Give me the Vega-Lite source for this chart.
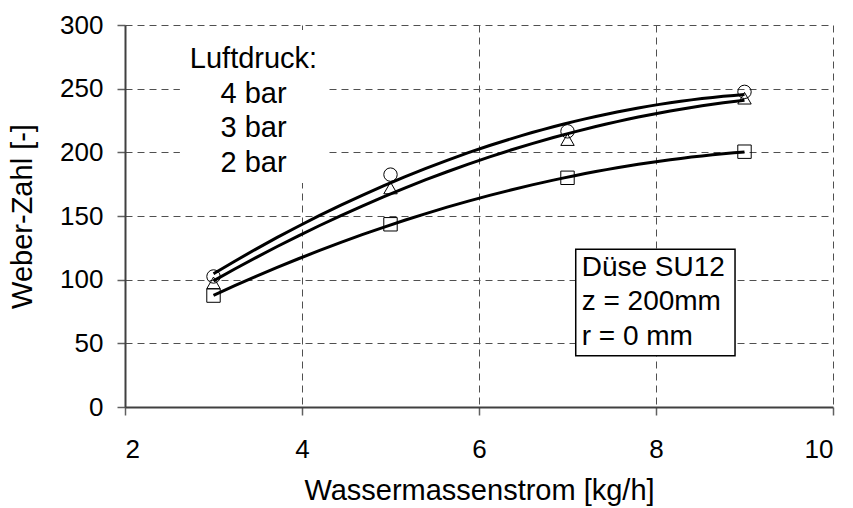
{
  "$schema": "https://vega.github.io/schema/vega-lite/v6.json",
  "width": 708,
  "height": 382,
  "autosize": {"type": "none"},
  "padding": {"left": 125, "top": 25, "right": 20, "bottom": 101},
  "background": "white",
  "config": {
    "view": {"stroke": null},
    "font": "Liberation Sans",
    "axis": {
      "labelFont": "Liberation Sans",
      "titleFont": "Liberation Sans",
      "labelFontSize": 26,
      "titleFontSize": 29,
      "labelColor": "black",
      "titleColor": "black",
      "titleFontWeight": "normal",
      "domainColor": "#404040",
      "domainWidth": 2,
      "tickColor": "#606060",
      "tickWidth": 1.5,
      "tickSize": 8,
      "gridColor": "#505050",
      "gridWidth": 1,
      "gridDash": [7, 5]
    }
  },
  "datasets": {
    "pts": [
      {"luftdruck": "4 bar", "massenstrom": 3, "weber": 102.5},
      {"luftdruck": "4 bar", "massenstrom": 5, "weber": 182.5},
      {"luftdruck": "4 bar", "massenstrom": 7, "weber": 216.5},
      {"luftdruck": "4 bar", "massenstrom": 9, "weber": 247.5},
      {"luftdruck": "3 bar", "massenstrom": 3, "weber": 97.5},
      {"luftdruck": "3 bar", "massenstrom": 5, "weber": 172},
      {"luftdruck": "3 bar", "massenstrom": 7, "weber": 210},
      {"luftdruck": "3 bar", "massenstrom": 9, "weber": 242.5},
      {"luftdruck": "2 bar", "massenstrom": 3, "weber": 87.5},
      {"luftdruck": "2 bar", "massenstrom": 5, "weber": 143.5},
      {"luftdruck": "2 bar", "massenstrom": 7, "weber": 180},
      {"luftdruck": "2 bar", "massenstrom": 9, "weber": 200.5}
    ]
  },
  "layer": [
    {
      "data": {"values": [{}]},
      "mark": {"type": "rect", "fill": "white", "stroke": null},
      "encoding": {
        "x": {"datum": 2.62, "type": "quantitative", "scale": {"domain": [2, 10]}},
        "x2": {"datum": 4.26},
        "y": {"datum": 296, "type": "quantitative", "scale": {"domain": [0, 300]}},
        "y2": {"datum": 176}
      }
    },
    {
      "data": {"name": "pts"},
      "transform": [
        {"regression": "weber", "on": "massenstrom", "groupby": ["luftdruck"], "method": "poly", "order": 2, "extent": [3, 9]}
      ],
      "mark": {"type": "line", "color": "black", "strokeWidth": 3, "clip": true},
      "encoding": {
        "x": {"field": "massenstrom", "type": "quantitative"},
        "y": {"field": "weber", "type": "quantitative"},
        "detail": {"field": "luftdruck"}
      }
    },
    {
      "data": {"name": "pts"},
      "mark": {"type": "point", "filled": false, "stroke": "black", "strokeWidth": 1, "opacity": 1},
      "encoding": {
        "x": {
          "field": "massenstrom",
          "type": "quantitative",
          "scale": {"domain": [2, 10], "nice": false},
          "axis": {
            "title": "Wassermassenstrom [kg/h]",
            "values": [2, 4, 6, 8, 10],
            "format": "d",
            "labelPadding": 21,
            "titlePadding": 14,
            "grid": true
          }
        },
        "y": {
          "field": "weber",
          "type": "quantitative",
          "scale": {"domain": [0, 300], "nice": false},
          "axis": {
            "title": "Weber-Zahl [-]",
            "values": [0, 50, 100, 150, 200, 250, 300],
            "labelPadding": 14,
            "titlePadding": 22,
            "grid": true
          }
        },
        "shape": {
          "field": "luftdruck",
          "type": "nominal",
          "scale": {"domain": ["4 bar", "3 bar", "2 bar"], "range": ["circle", "triangle-up", "square"]},
          "legend": null
        },
        "size": {"value": 180}
      }
    },
    {
      "data": {"values": [{}]},
      "mark": {"type": "rect", "fill": "white", "stroke": "black", "strokeWidth": 1.5},
      "encoding": {
        "x": {"datum": 7.093, "type": "quantitative"},
        "x2": {"datum": 8.893},
        "y": {"datum": 123.8, "type": "quantitative"},
        "y2": {"datum": 40.3}
      }
    },
    {
      "data": {"values": [{}]},
      "mark": {"type": "text", "font": "Liberation Sans", "fontSize": 28, "align": "left", "baseline": "alphabetic", "lineHeight": 34.5, "color": "black"},
      "encoding": {
        "x": {"datum": 7.16, "type": "quantitative"},
        "y": {"datum": 102.9, "type": "quantitative"},
        "text": {"value": ["Düse SU12", "z = 200mm", "r = 0 mm"]}
      }
    },
    {
      "data": {"values": [{}]},
      "mark": {"type": "text", "font": "Liberation Sans", "fontSize": 29, "align": "center", "baseline": "alphabetic", "lineHeight": 34.5, "color": "black"},
      "encoding": {
        "x": {"datum": 3.452, "type": "quantitative"},
        "y": {"datum": 266, "type": "quantitative"},
        "text": {"value": ["Luftdruck:", "4 bar", "3 bar", "2 bar"]}
      }
    }
  ]
}
